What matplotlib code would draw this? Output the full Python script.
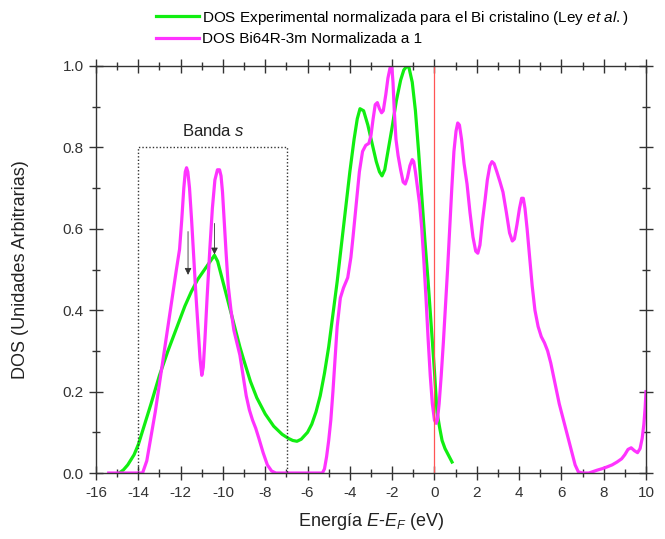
import numpy as np
import matplotlib
matplotlib.use('Agg')
import matplotlib.pyplot as plt
from matplotlib.ticker import MultipleLocator, FormatStrFormatter

plt.rcParams['font.family'] = ['Liberation Sans', 'DejaVu Sans']
plt.rcParams['mathtext.fontset'] = 'custom'
plt.rcParams['mathtext.rm'] = 'Liberation Sans'
plt.rcParams['mathtext.it'] = 'Liberation Sans:italic'
plt.rcParams['axes.unicode_minus'] = False

# experimental DOS (Ley et al.)
exp_e = [-14.9, -14.7, -14.5, -14.2, -14.0, -13.7, -13.4, -13.0, -12.6, -12.2,
         -11.8, -11.5, -11.2, -11.0, -10.8, -10.6, -10.4, -10.25, -10.1, -9.9,
         -9.7, -9.5, -9.2, -9.0, -8.7, -8.4, -8.0, -7.6, -7.2, -6.9, -6.7,
         -6.5, -6.3, -6.0, -5.8, -5.6, -5.4, -5.2, -5.0, -4.8, -4.6, -4.4,
         -4.2, -4.0, -3.8, -3.65, -3.52, -3.35, -3.15, -2.95, -2.75, -2.6,
         -2.48, -2.35, -2.2, -2.0, -1.8, -1.6, -1.45, -1.3, -1.2, -1.05,
         -0.9, -0.75, -0.6, -0.45, -0.3, -0.15, 0.0, 0.12, 0.25, 0.36, 0.5,
         0.65, 0.83]
exp_dos = [0.0, 0.008, 0.02, 0.045, 0.07, 0.12, 0.17, 0.24, 0.30, 0.355,
           0.41, 0.445, 0.475, 0.49, 0.505, 0.52, 0.535, 0.52, 0.49, 0.45,
           0.41, 0.37, 0.31, 0.275, 0.225, 0.185, 0.145, 0.115, 0.095, 0.085, 0.08,
           0.078, 0.083, 0.10, 0.12, 0.15, 0.19, 0.245, 0.31, 0.39, 0.47, 0.56,
           0.65, 0.74, 0.82, 0.87, 0.895, 0.89, 0.855, 0.81, 0.765, 0.74,
           0.73, 0.745, 0.79, 0.85, 0.915, 0.965, 0.99, 1.0, 0.995, 0.96,
           0.89, 0.79, 0.68, 0.57, 0.47, 0.36, 0.25, 0.15, 0.11, 0.08, 0.06,
           0.045, 0.027]

# calculated DOS Bi64 R-3m
calc_e = [-15.4, -14.5, -13.8, -13.6, -13.4, -13.2, -13.0, -12.8, -12.6, -12.4,
          -12.2, -12.05, -11.95, -11.85, -11.78, -11.72, -11.66, -11.58, -11.48,
          -11.38, -11.28, -11.18, -11.08, -11.0, -10.93, -10.85, -10.75, -10.62,
          -10.5, -10.38, -10.26, -10.16, -10.09, -10.02, -9.94, -9.85, -9.75,
          -9.62, -9.48, -9.34, -9.2, -9.05, -8.9, -8.75, -8.6, -8.45, -8.3,
          -8.1, -7.9, -7.7, -7.5, -7.0, -6.0, -5.3, -5.2, -5.1, -5.0, -4.9,
          -4.8, -4.7, -4.6, -4.45, -4.3, -4.1, -3.95, -3.85, -3.7, -3.55,
          -3.4, -3.25, -3.1, -3.0, -2.9, -2.8, -2.7, -2.6, -2.5, -2.42, -2.3,
          -2.2, -2.1, -2.02, -1.96, -1.9, -1.82, -1.72, -1.6, -1.48, -1.38,
          -1.28, -1.16, -1.05, -0.98, -0.9, -0.8, -0.7, -0.6, -0.5, -0.4,
          -0.3, -0.2, -0.1, 0.0, 0.08, 0.14, 0.22, 0.32, 0.42, 0.52, 0.62,
          0.72, 0.82, 0.92, 1.02, 1.1, 1.18, 1.28, 1.4, 1.54, 1.68, 1.82,
          1.95, 2.05, 2.15, 2.27, 2.39, 2.5, 2.62, 2.72, 2.82, 2.95, 3.1,
          3.24, 3.4, 3.55, 3.68, 3.78, 3.9, 4.02, 4.12, 4.2, 4.28, 4.38,
          4.5, 4.62, 4.75, 4.9, 5.05, 5.2, 5.35, 5.5, 5.7, 5.9, 6.1, 6.3,
          6.5, 6.65, 6.8, 7.0, 7.3, 7.69, 7.95, 8.16, 8.4, 8.63, 8.85, 9.0,
          9.15, 9.3, 9.45, 9.6, 9.72, 9.82, 9.9, 9.96, 10.0]
calc_dos = [0.0, 0.0, 0.0, 0.03, 0.09, 0.15, 0.22, 0.29, 0.36, 0.43,
            0.50, 0.55, 0.62, 0.70, 0.74, 0.75, 0.74, 0.70, 0.62,
            0.53, 0.44, 0.36, 0.28, 0.24, 0.26, 0.33, 0.43, 0.55,
            0.65, 0.72, 0.745, 0.745, 0.73, 0.69, 0.62, 0.54, 0.46,
            0.40, 0.35, 0.32, 0.29, 0.24, 0.19, 0.155, 0.13, 0.11, 0.085,
            0.05, 0.02, 0.005, 0.0, 0.0, 0.0, 0.0, 0.01, 0.04, 0.08, 0.13,
            0.20, 0.28, 0.36, 0.43, 0.455, 0.48, 0.53, 0.58, 0.66, 0.74,
            0.79, 0.805, 0.81, 0.83, 0.87, 0.905, 0.91, 0.895, 0.885, 0.89, 0.93,
            0.97, 0.995, 1.0, 0.96, 0.89, 0.82, 0.78, 0.745, 0.715, 0.71,
            0.725, 0.755, 0.77, 0.765, 0.74, 0.70, 0.66, 0.60, 0.52, 0.43,
            0.33, 0.24, 0.17, 0.13, 0.122, 0.13, 0.17, 0.24, 0.32, 0.41, 0.50,
            0.60, 0.70, 0.79, 0.84, 0.86, 0.855, 0.82, 0.76, 0.71, 0.64, 0.58,
            0.545, 0.54, 0.56, 0.62, 0.67, 0.72, 0.755, 0.765, 0.76, 0.74, 0.715,
            0.69, 0.64, 0.59, 0.57, 0.575, 0.61, 0.65, 0.675, 0.675, 0.65, 0.60,
            0.53, 0.46, 0.40, 0.36, 0.335, 0.32, 0.30, 0.27, 0.22, 0.17, 0.13, 0.09,
            0.05, 0.02, 0.003, 0.0, 0.0, 0.007, 0.011, 0.015, 0.02, 0.027, 0.035, 0.045,
            0.058, 0.062, 0.055, 0.05, 0.06, 0.085, 0.12, 0.16, 0.20]

band_box = (-14.0, -6.95, 0.8)
arrows = [(-11.65, 0.60, 0.48), (-10.4, 0.62, 0.53)]

fig = plt.figure(figsize=(6.65, 5.39), dpi=100)
ax = fig.add_axes([0.1444, 0.1224, 0.8270, 0.7552])

green = '#11ee11'
magenta = '#ff33ff'
ax.plot(exp_e, exp_dos, color=green, lw=2.3, solid_joinstyle='round',
        label='DOS Experimental normalizada para el Bi cristalino (Ley $\\it{et\\ al.}$)')
ax.plot(calc_e, calc_dos, color=magenta, lw=2.3, solid_joinstyle='round',
        label='DOS Bi64R-3m Normalizada a 1')
ax.axvline(0, color='#ff5555', lw=0.9)

x0, x1, top = band_box
ax.plot([x0, x0, x1, x1], [0, top, top, 0], color='#333333', lw=1.0,
        linestyle=(0, (1, 1.5)))
ax.text((x0 + x1) / 2, 0.84, 'Banda $\\it{s}$', ha='center', va='center',
        fontsize=12, color='#222222')

for xa, ys, ye in arrows:
    ax.annotate('', xy=(xa, ye), xytext=(xa, ys),
                arrowprops=dict(arrowstyle='-|>', color='#333333', lw=0.6,
                                mutation_scale=10))

ax.set_xlim(-16, 10)
ax.set_ylim(0, 1.0)
ax.xaxis.set_major_locator(MultipleLocator(2))
ax.xaxis.set_minor_locator(MultipleLocator(1))
ax.yaxis.set_major_locator(MultipleLocator(0.2))
ax.yaxis.set_minor_locator(MultipleLocator(0.1))
ax.yaxis.set_major_formatter(FormatStrFormatter('%.1f'))
ax.tick_params(which='both', direction='inout', top=True, right=True,
               color='#333333', width=1.0, labelsize=11, colors='#333333')
ax.tick_params(which='major', length=10, pad=4)
ax.tick_params(which='minor', length=6)
for s in ax.spines.values():
    s.set_color('#333333')
    s.set_linewidth(1.0)

ax.set_xlabel('Energía $\\it{E}$-$\\it{E}_{\\it{F}}$ (eV)', fontsize=13,
              color='#222222', labelpad=8)
ax.set_ylabel('DOS (Unidades Arbitrarias)', fontsize=13, color='#222222',
              labelpad=24)

ax.legend(loc='lower left', bbox_to_anchor=(0.095, 1.03), frameon=False,
          fontsize=11, handlelength=2.8, handletextpad=0.2, labelspacing=0.35,
          borderaxespad=0.1)

fig.savefig('out.png', dpi=100)
